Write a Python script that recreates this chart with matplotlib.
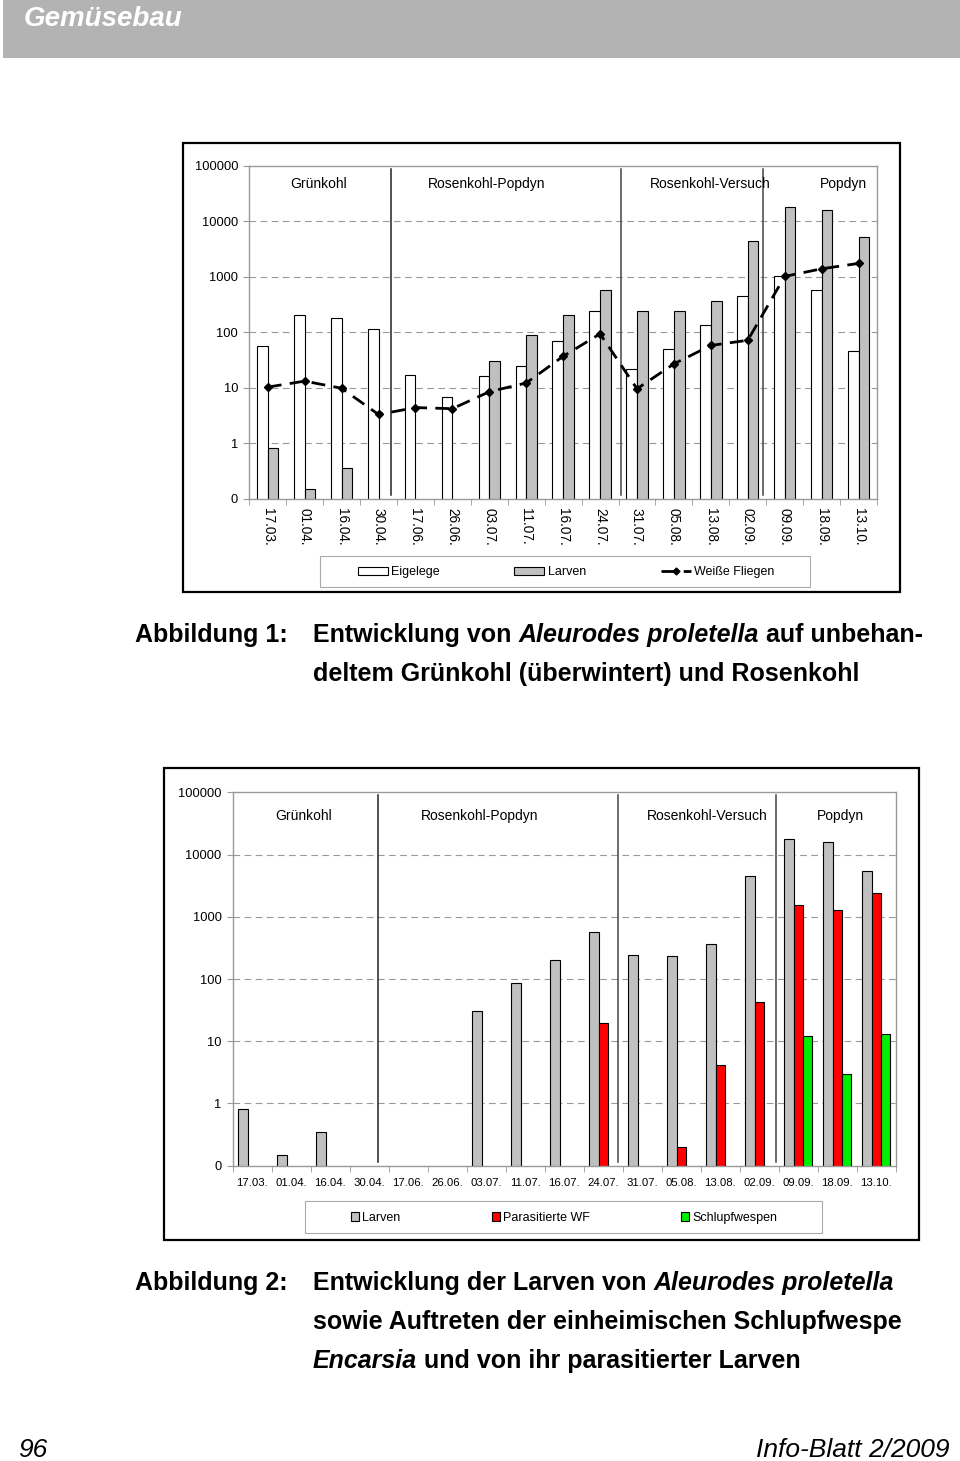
import numpy as np
import matplotlib
matplotlib.use('Agg')
import matplotlib.pyplot as plt
from matplotlib.patches import Rectangle, Patch
from matplotlib.lines import Line2D
from matplotlib.ticker import NullLocator

nan = np.nan

dates = ['17.03.', '01.04.', '16.04.', '30.04.', '17.06.', '26.06.', '03.07.', '11.07.', '16.07.',
         '24.07.', '31.07.', '05.08.', '13.08.', '02.09.', '09.09.', '18.09.', '13.10.']
sections = ['Grünkohl', 'Rosenkohl-Popdyn', 'Rosenkohl-Versuch', 'Popdyn']

# Abbildung 1
eigelege = [57, 202, 178, 113, 16.7, 6.7, 16, 25, 69, 245, 22, 51, 133, 457, 1020, 570, 47]
larven1 = [0.81, 0.15, 0.36, nan, nan, nan, 31, 88, 202, 570, 245, 238, 366, 4420, 17900, 15800, 5300]
fliegen = [10.3, 13.2, 9.8, 3.3, 4.4, 4.2, 8.5, 12.2, 37, 94, 9.6, 27, 58, 72, 1020, 1400, 1750]

# Abbildung 2
larven2 = [0.80, 0.15, 0.35, nan, nan, nan, 30.6, 87, 202, 575, 240, 237, 364, 4460, 17700, 15700, 5370]
parasitiert = [nan] * 9 + [19.4, nan, 0.2, 4.1, 43, 1520, 1300, 2440]
schlupfwespen = [nan] * 14 + [12, 3.0, 13]

yticks = [0.1, 1, 10, 100, 1000, 10000, 100000]
ylabels = ['0', '1', '10', '100', '1000', '10000', '100000']

W, H = 960, 1461
fig = plt.figure(figsize=(W / 100, H / 100), dpi=100)
plt.rcParams['font.family'] = ['Liberation Sans', 'DejaVu Sans']
cond = ['Liberation Sans Narrow', 'Liberation Sans', 'DejaVu Sans']


def px_axes(x0, y0, x1, y1):
    return fig.add_axes([x0 / W, 1 - y1 / H, (x1 - x0) / W, (y1 - y0) / H])


def frame(x0, y0, x1, y1, color='black', lw=1.6):
    fig.patches.append(Rectangle((x0 / W, 1 - y1 / H), (x1 - x0) / W, (y1 - y0) / H,
                                 transform=fig.transFigure, fill=False, edgecolor=color, lw=lw))


def style_axes(ax, dividers, label_pos, label_y, rotate):
    x = np.arange(len(dates))
    ax.set_yscale('log')
    ax.set_ylim(0.1, 100000)
    ax.set_xlim(-0.5, len(dates) - 0.5)
    ax.set_yticks(yticks)
    ax.set_yticklabels(ylabels, fontsize=9.3)
    ax.yaxis.set_minor_locator(NullLocator())
    for v in yticks[1:-1]:
        ax.axhline(v, color='#999999', lw=0.8, ls=(0, (6, 4)), zorder=0)
    for s in ax.spines.values():
        s.set_color('#999999')
        s.set_linewidth(1.0)
    ax.tick_params(axis='y', length=4, color='#999999', pad=4)
    ax.set_xticks(x)
    if rotate:
        ax.set_xticklabels(dates, fontsize=9.8, rotation=-90, va='top', ha='center')
        ax.tick_params(axis='x', which='major', length=0, pad=7)
    else:
        ax.set_xticklabels(dates, fontsize=8.2)
        ax.tick_params(axis='x', which='major', length=0, pad=9)
    ax.set_xticks(np.arange(len(dates) + 1) - 0.5, minor=True)
    ax.tick_params(axis='x', which='minor', length=4, color='#999999')
    for i, d in enumerate(dividers):
        ax.axvline(d, ymin=0.01, ymax=0.992, color='#222222' if i == 0 else '#444444', lw=1.1)
    for name, pos in zip(sections, label_pos):
        ax.text(pos, label_y, name, ha='center', va='center', fontsize=10)
    ax.set_facecolor('white')


# header
fig.patches.append(Rectangle((3 / W, 1 - 58 / H), (W - 3) / W, 58 / H, transform=fig.transFigure,
                             facecolor='#b3b3b3', edgecolor='none'))
fig.text(24 / W, 1 - 19 / H, 'Gemüsebau', color='white', fontsize=20, fontweight='bold',
         fontstyle='italic', va='center', ha='left')

# Abbildung 1
frame(183, 143, 900, 592)
ax1 = px_axes(249.3, 166, 877, 498.7)
x = np.arange(len(dates))
w1 = 0.29
ax1.bar(x - w1 / 2, eigelege, w1, color='white', edgecolor='black', lw=0.8, label='Eigelege', zorder=2)
ax1.bar(x + w1 / 2, larven1, w1, color='#c0c0c0', edgecolor='black', lw=0.8, label='Larven', zorder=2)
ax1.plot(x, fliegen, color='black', lw=2, ls=(0, (5, 3)), marker='D', ms=4, label='Weiße Fliegen', zorder=3)
style_axes(ax1, [3.35, 9.56, 13.41], [1.39, 5.94, 11.98, 15.6], 47000, True)

frame(320, 556, 810, 587, color='#aaaaaa', lw=0.8)
fig.legend(handles=[Patch(facecolor='white', edgecolor='black', lw=0.8, label='Eigelege'),
                    Patch(facecolor='#c0c0c0', edgecolor='black', lw=0.8, label='Larven'),
                    Line2D([], [], color='black', lw=2, marker='D', ms=3.5, ls=(0, (5, 3)),
                           label='Weiße Fliegen')],
           loc='center', ncol=3, fontsize=9, bbox_to_anchor=(566 / W, 1 - 572 / H),
           frameon=False, handlelength=2.4, handleheight=0.6, handletextpad=0.25,
           columnspacing=6.0, borderaxespad=0, borderpad=0)

# Abbildung 2
frame(164, 768, 919, 1240)
ax2 = px_axes(232.7, 792.3, 895.7, 1165.7)
w2 = 0.235
ax2.bar(x - w2, larven2, w2, color='#c0c0c0', edgecolor='black', lw=0.8, zorder=2)
ax2.bar(x, parasitiert, w2, color='#ff0000', edgecolor='black', lw=0.8, zorder=2)
ax2.bar(x + w2, schlupfwespen, w2, color='#00ee00', edgecolor='black', lw=0.8, zorder=2)
style_axes(ax2, [3.23, 9.38, 13.42], [1.31, 5.84, 11.66, 15.08], 42000, False)

frame(305, 1201, 822, 1233, color='#aaaaaa', lw=0.8)
fig.legend(handles=[Patch(facecolor='#c0c0c0', edgecolor='black', lw=0.8, label='Larven'),
                    Patch(facecolor='#ff0000', edgecolor='black', lw=0.8, label='Parasitierte WF'),
                    Patch(facecolor='#00ee00', edgecolor='black', lw=0.8, label='Schlupfwespen')],
           loc='center', ncol=3, fontsize=9, bbox_to_anchor=(564 / W, 1 - 1218 / H),
           frameon=False, handlelength=0.65, handleheight=0.65, handletextpad=0.25,
           columnspacing=7.3, borderaxespad=0, borderpad=0)

# captions
renderer = fig.canvas.get_renderer()


def rich_line(x0, y, pieces, size=18):
    xx = x0
    for txt, style in pieces:
        t = fig.text(xx / W, 1 - y / H, txt, fontsize=size, fontweight='bold', fontstyle=style,
                     family=cond, va='center', ha='left')
        xx += t.get_window_extent(renderer).width


rich_line(135, 635, [('Abbildung 1:', 'normal')])
rich_line(313, 635, [('Entwicklung von ', 'normal'), ('Aleurodes proletella', 'italic'),
                     (' auf unbehan-', 'normal')])
rich_line(313, 674, [('deltem Grünkohl (überwintert) und Rosenkohl', 'normal')])

rich_line(135, 1283, [('Abbildung 2:', 'normal')])
rich_line(313, 1283, [('Entwicklung der Larven von ', 'normal'), ('Aleurodes proletella', 'italic')])
rich_line(313, 1322, [('sowie Auftreten der einheimischen Schlupfwespe', 'normal')])
rich_line(313, 1361, [('Encarsia', 'italic'), (' und von ihr parasitierter Larven', 'normal')])

# footer
fig.text(18 / W, 1 - 1450 / H, '96', fontsize=19, fontstyle='italic', family=cond, va='center', ha='left')
fig.text(950 / W, 1 - 1450 / H, 'Info-Blatt 2/2009', fontsize=19, fontstyle='italic', family=cond,
         va='center', ha='right')

fig.savefig('out.png', dpi=100)
